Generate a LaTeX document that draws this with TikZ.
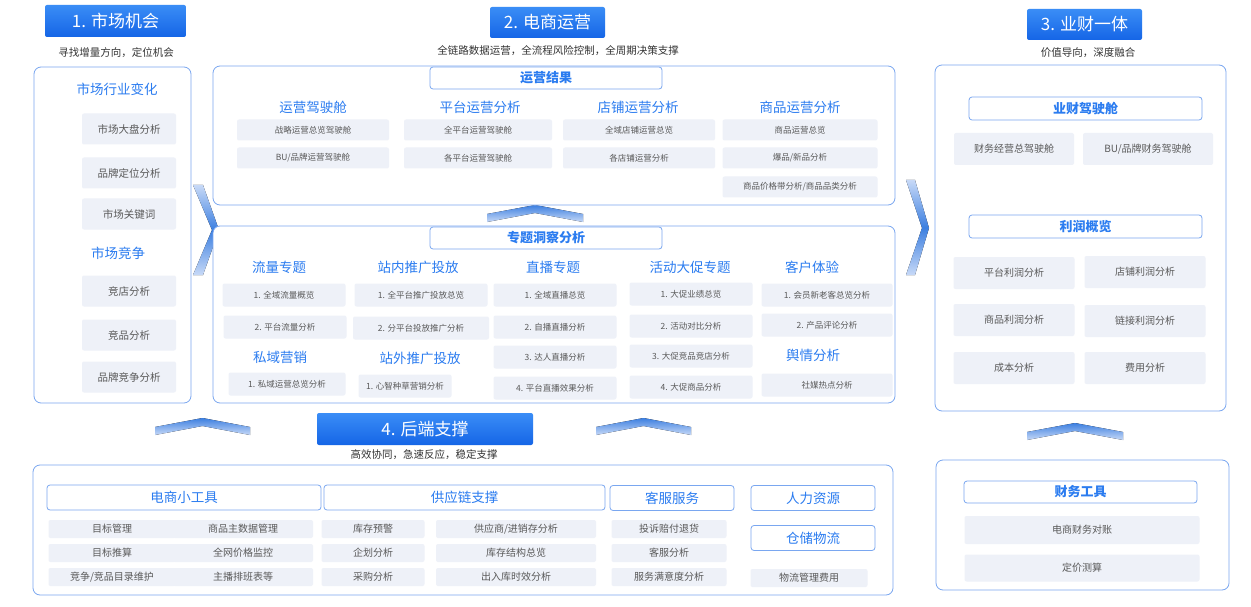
\documentclass[tikz,border=0pt]{standalone}
\usepackage{fontspec}
\setmainfont{Noto Sans CJK SC}
\begin{document}
\begin{tikzpicture}[x=1pt,y=-1pt,
 hdr/.style={draw=none,top color=hblue2,bottom color=hblue1,text=white,rounded corners=2pt,font=\fontsize{17}{17}\selectfont,inner sep=0},
 sub/.style={font=\fontsize{10.5}{10.5}\selectfont,text=black!80},
 panel/.style={draw=pborder,line width=0.8pt,rounded corners=7pt,fill=white},
 tbox/.style={draw=pborder,line width=0.8pt,rounded corners=3pt,fill=white,text=tblue,font=\bfseries\fontsize{13}{13}\selectfont,inner sep=0},
 ttl/.style={text=tblue,font=\fontsize{13.5}{13.5}\selectfont},
 itm/.style={fill=ifill,rounded corners=2pt,text=black!65,font=\fontsize{10}{10}\selectfont,inner sep=0,align=center},
 sm/.style={itm,font=\fontsize{8.5}{10}\selectfont},
 chev/.style={top color=cb3,bottom color=cb1,draw=none},
 chevv/.style={top color=cb1,bottom color=cb2,middle color=cb3,draw=none}]
\definecolor{hblue1}{HTML}{1565E6}
\definecolor{hblue2}{HTML}{3A8DF6}
\definecolor{pborder}{HTML}{7AA7F0}
\definecolor{tblue}{HTML}{2B7CF0}
\definecolor{ifill}{HTML}{EEF1F8}
\definecolor{cb1}{HTML}{C7D9F7}
\definecolor{cb2}{HTML}{C7D9F7}
\definecolor{cb3}{HTML}{3C7FE0}
\useasboundingbox[fill=white] (0,0) rectangle (1251,607);
% headers
\node[hdr,minimum width=141,minimum height=32] (h1) at (115.5,21) {1. 市场机会};
\node[sub] (s1) at (116,53) {寻找增量方向，定位机会};
\node[hdr,minimum width=115,minimum height=31] (h2) at (547.5,22.5) {2. 电商运营};
\node[sub] (s2) at (558,51) {全链路数据运营，全流程风险控制，全周期决策支撑};
\node[hdr,minimum width=115,minimum height=31] (h3) at (1084.5,24.5) {3. 业财一体};
\node[sub] (s3) at (1088,53) {价值导向，深度融合};
% chevrons
\fill[chevv] (193,185)--(212,230)--(193,275)--(203,275)--(219,230)--(203,185)--cycle;
\fill[chevv] (906,180)--(922,228)--(906,275)--(915,275)--(929,228)--(915,180)--cycle;
\foreach \a/\b/\t in {487/583/205,155/250/418,596/691/418,1027/1123/423}{
 \fill[chev] (\a,\t+17)--(\a,\t+9)--({(\a+\b)/2},\t)--(\b,\t+9)--(\b,\t+17)--({(\a+\b)/2},\t+8)--cycle;}
% left panel
\draw[panel] (34,67) rectangle (191,403);
\node[ttl] (lt1) at (117,89) {市场行业变化};
\node[ttl] (lt2) at (118,253) {市场竞争};
\foreach \n/\y/\t in {l1/129/市场大盘分析,l2/173/品牌定位分析,l3/214/市场关键词,l4/291/竞店分析,l5/335/竞品分析,l6/377/品牌竞争分析}
 \node[itm,minimum width=94,minimum height=31,font=\fontsize{10.5}{10.5}\selectfont] (\n) at (129,\y) {\t};
% top middle panel
\draw[panel] (213,66) rectangle (895,205);
\node[tbox,minimum width=232,minimum height=22] (t1) at (546,78) {运营结果};
\foreach \n/\x/\t in {a/313/运营驾驶舱,b/480/平台运营分析,c/638/店铺运营分析,d/800/商品运营分析}
 \node[ttl] (tt\n) at (\x,107) {\t};
\foreach \n/\x/\y/\w/\t in {a1/313/130/152/战略运营总览驾驶舱,a2/313/158/152/{BU/品牌运营驾驶舱},b1/478/130/148/全平台运营驾驶舱,b2/478/158/148/各平台运营驾驶舱,c1/639/130/152/全域店铺运营总览,c2/639/158/152/各店铺运营分析,d1/800/130/155/商品运营总览,d2/800/158/155/{爆品/新品分析}}
 \node[sm,minimum width=\w,minimum height=21] (i\n) at (\x,\y) {\t};
\node[sm,minimum width=155,minimum height=21,text width=150] (id3) at (800,187) {商品价格带分析/商品品类分析};
% lower middle panel
\draw[panel] (213,226) rectangle (895,403);
\node[tbox,minimum width=232,minimum height=22] (t2) at (546,238) {专题洞察分析};
\foreach \n/\x/\y/\t in {p/279/267/流量专题,q/418/267/站内推广投放,r/553/267/直播专题,s/690/267/活动大促专题,u/812/267/客户体验,v/280/357/私域营销,w/420/358/站外推广投放,z/813/355/舆情分析}
 \node[ttl] (tt\n) at (\x,\y) {\t};
\foreach \n/\x/\y/\w/\t in {
 p1/284/295/123/1. 全域流量概览, p2/285/327/123/2. 平台流量分析, v1/287/384/117/1. 私域运营总览分析,
 q1/421/295/133/1. 全平台推广投放总览, q2/421/328/136/2. 分平台投放推广分析, w1/405/386/93/1. 心智种草营销分析,
 r1/555/295/123/1. 全域直播总览, r2/555/327/123/2. 自播直播分析, r3/555/357/123/3. 达人直播分析, r4/555/388/123/4. 平台直播效果分析,
 s1/691/294/123/1. 大促业绩总览, s2/691/326/123/2. 活动对比分析, s3/691/356/123/3. 大促竞品竞店分析, s4/691/387/123/4. 大促商品分析,
 u1/827/295/131/1. 会员新老客总览分析, u2/827/325/131/2.  产品评论分析, z1/827/385/131/社媒热点分析}
 \node[sm,minimum width=\w,minimum height=23] (i\n) at (\x,\y) {\t};
% right panel
\draw[panel] (935,65) rectangle (1226,411);
\node[tbox,minimum width=233,minimum height=23] (t3) at (1085.5,108.5) {业财驾驶舱};
\node[itm,minimum width=120,minimum height=32] (r1) at (1014,149) {财务经营总驾驶舱};
\node[itm,minimum width=130,minimum height=32] (r2) at (1148,149) {BU/品牌财务驾驶舱};
\node[tbox,minimum width=233,minimum height=23] (t4) at (1085.5,226.5) {利润概览};
\foreach \n/\x/\y/\t in {g1/1014/273/平台利润分析,g2/1145/272/店铺利润分析,g3/1014/320/商品利润分析,g4/1145/321/链接利润分析,g5/1014/368/成本分析,g6/1145/368/费用分析}
 \node[itm,minimum width=121,minimum height=32] (\n) at (\x,\y) {\t};
% bottom right panel
\draw[panel] (936,460) rectangle (1229,590);
\node[tbox,minimum width=233,minimum height=22] (t5) at (1080.5,492) {财务工具};
\node[itm,minimum width=235,minimum height=28] (f1) at (1082,530) {电商财务对账};
\node[itm,minimum width=235,minimum height=27] (f2) at (1082,568) {定价测算};
% header 4
\node[hdr,minimum width=216,minimum height=32] (h4) at (425,429) {4. 后端支撑};
\node[sub] (s4) at (424,455) {高效协同，急速反应，稳定支撑};
% bottom panel
\draw[panel] (33,465) rectangle (893,595);
\foreach \n/\x/\y/\w/\t in {b1/184/497.5/274/电商小工具,b2/464.5/497.5/281/供应链支撑,b3/672/498/124/客服服务,b4/813/498/124/人力资源,b5/813/538/124/仓储物流}
 \node[tbox,font=\fontsize{13.5}{13.5}\selectfont,minimum width=\w,minimum height=25] (\n) at (\x,\y) {\t};
\foreach \n/\x/\w/\t/\u/\v in {ka/112/127/目标管理/目标推算/{竞争/竞品目录维护},kb/243/140/商品主数据管理/全网价格监控/主播排班表等,kc/373/103/库存预警/企划分析/采购分析,kd/516/160/{供应商/进销存分析}/库存结构总览/出入库时效分析,ke/669/115/投诉赔付退货/客服分析/服务满意度分析}{
 \node[itm,minimum width=\w,minimum height=18] (\n1) at (\x,529) {\t};
 \node[itm,minimum width=\w,minimum height=18] (\n2) at (\x,553) {\u};
 \node[itm,minimum width=\w,minimum height=18] (\n3) at (\x,577) {\v};}
\node[itm,minimum width=117,minimum height=18] (kf) at (809,578) {物流管理费用};
\end{tikzpicture}
\end{document}
